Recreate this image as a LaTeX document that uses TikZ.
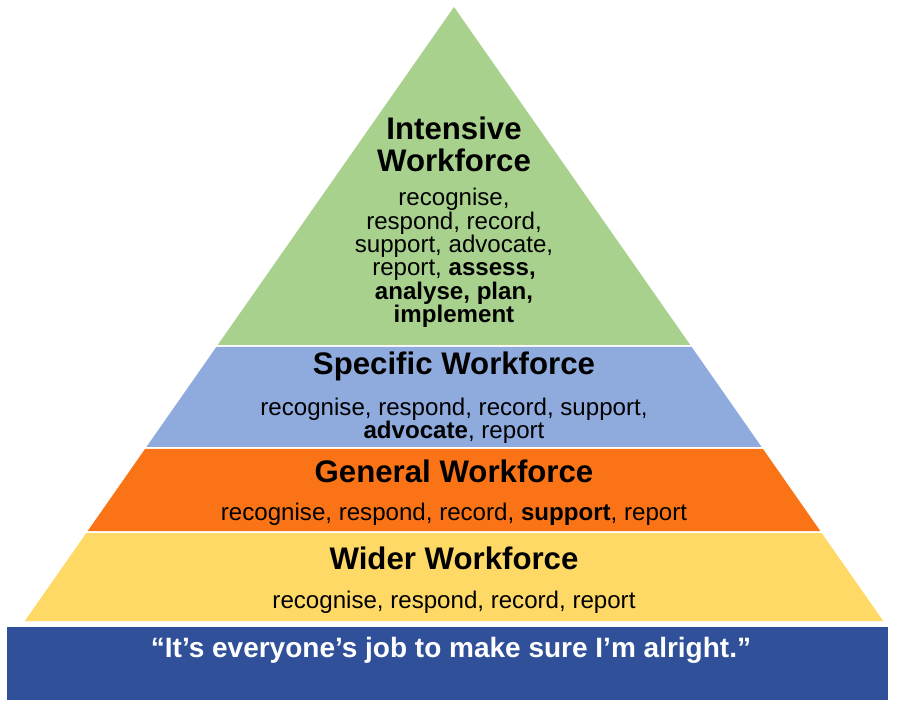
\documentclass[tikz,border=0pt]{standalone}
\usepackage{fontspec}
\setmainfont{Liberation Sans}
\definecolor{cgreen}{HTML}{A9D18E}
\definecolor{cblue}{HTML}{8FAADC}
\definecolor{corange}{HTML}{FA7316}
\definecolor{cyellow}{HTML}{FFD966}
\definecolor{cdark}{HTML}{30519A}
\begin{document}
\begin{tikzpicture}[x=1pt,y=-1pt,
  titletext/.style={font=\bfseries\fontsize{31.2}{32}\selectfont, align=center, inner sep=0pt},
  bodytext/.style={font=\fontsize{24.1}{23.4}\selectfont, align=center, inner sep=0pt},
  quotetext/.style={font=\bfseries\fontsize{28}{30}\selectfont, text=white, inner sep=0pt}]
\useasboundingbox (0,0) rectangle (900,708);
\fill[white] (0,0) rectangle (900,708);
% layers
\fill[cgreen]  (454,7) -- (690.3,345) -- (217.7,345) -- cycle;
\fill[cblue]   (216.3,347) -- (691.7,347) -- (761.6,447) -- (146.4,447) -- cycle;
\fill[corange] (145.0,449) -- (763.0,449) -- (820.3,531) -- (87.7,531) -- cycle;
\fill[cyellow] (86.3,533) -- (821.7,533) -- (883.2,621) -- (24.8,621) -- cycle;
\fill[cdark]   (7,627) rectangle (888,700);
% texts
\node[titletext] (t1) at (454,144) {Intensive\\Workforce};
\node[bodytext] (b1) at (454,258) {recognise,\\respond, record,\\support, advocate,\\report, \textbf{assess,}\\\textbf{analyse, plan,}\\\textbf{implement}};
\node[titletext] (t2) at (454,366) {Specific Workforce};
\node[bodytext] (b2) at (454,421) {recognise, respond, record, support,\\\textbf{advocate}, report};
\node[titletext] (t3) at (454,471) {General Workforce};
\node[bodytext] (b3) at (454,514) {recognise, respond, record, \textbf{support}, report};
\node[titletext] (t4) at (454,558) {Wider Workforce};
\node[bodytext] (b4) at (454,602) {recognise, respond, record, report};
\node[quotetext] (q) at (451,650) {“It’s everyone’s job to make sure I’m alright.”};
\end{tikzpicture}
\end{document}
